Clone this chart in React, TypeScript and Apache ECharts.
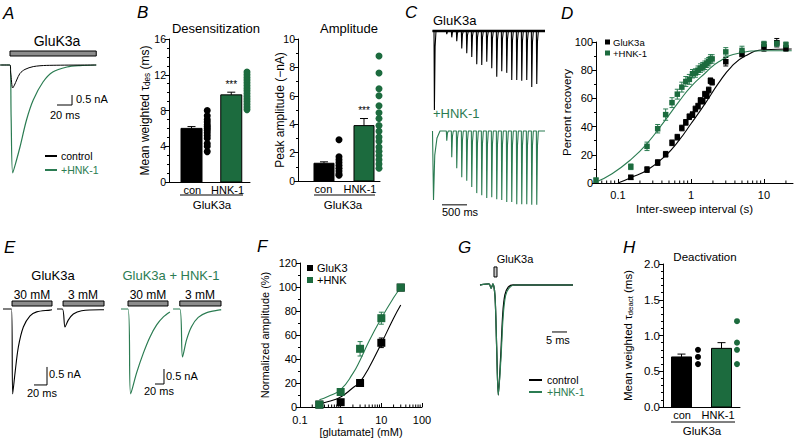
import React, { useEffect, useRef } from "react";
import * as echarts from "echarts";

const FONT = "'Liberation Sans', Arial, Helvetica, sans-serif";
const BLACK = "#000000";
const GREEN = "#1c6b3e";
const GREEN_LINE = "#2b7c52";
const GREY = "#8c8c8c";

// ---------------- Panel A: example traces (time ms, current nA)
const aCtrlTime = [-13, 0, 1, 3.6, 6, 8.9, 13.3, 20, 31, 49, 115];
const aCtrlCurrent = [0, 0, -0.4, -1.15, -1.0, -0.75, -0.42, -0.22, -0.08, -0.02, 0];
const aHnkTime = [-13, 0, 1.5, 3.6, 8, 13.3, 22, 31, 44, 57, 76, 93, 115];
const aHnkCurrent = [0, 0, -2.6, -5.4, -4.85, -4.1, -2.75, -1.75, -0.85, -0.35, -0.1, -0.03, 0];
const aStim = [[0, 115]];

// ---------------- Panel B: desensitization and amplitude
const bDesMean = [6.0, 9.75];
const bDesSem = [0.2, 0.3];
const bDesSig = ["", "***"];
const bDesConDots = [8.0, 7.4, 7.0, 6.7, 6.4, 6.2, 6.0, 5.8, 5.5, 5.2, 4.9, 4.3, 4.0, 3.4];
const bDesHnkDots = [12.3, 12.0, 11.7, 11.4, 11.1, 10.8, 10.5, 10.2, 9.9, 9.6, 9.3, 9.0, 8.7, 8.4, 8.1];
const bAmpMean = [1.25, 3.9];
const bAmpSem = [0.1, 0.5];
const bAmpSig = ["", "***"];
const bAmpConDots = [2.9, 1.7, 1.5, 1.3, 1.1, 0.9, 0.7, 0.5, 0.4];
const bAmpHnkDots = [8.8, 7.6, 6.5, 6.0, 5.3, 4.8, 4.4, 3.9, 3.5, 3.1, 2.8, 2.4, 2.1, 1.8, 1.5, 1.2, 0.9];
const bCategories = ["con", "HNK-1"];

// ---------------- Panel C: recovery protocol traces (time ms, relative current)
const cCtrlPeakTimes = [80, 327, 427, 527, 627, 727, 827, 927, 1027, 1127, 1227, 1327, 1427, 1527, 1627, 1727, 1827, 1927, 2027, 2127];
const cCtrlPeakDepths = [1, 0.04, 0.08, 0.13, 0.22, 0.28, 0.33, 0.42, 0.43, 0.39, 0.47, 0.58, 0.51, 0.53, 0.62, 0.62, 0.63, 0.62, 0.71, 0.67];
const cHnkPeakTimes = [60, 327, 427, 527, 627, 727, 827, 927, 1027, 1127, 1227, 1327, 1427, 1527, 1627, 1727, 1827, 1927, 2027, 2127];
const cHnkPeakDepths = [1, 0.14, 0.38, 0.54, 0.67, 0.72, 0.81, 0.9, 0.93, 0.97, 0.96, 0.99, 1.0, 1.03, 1.03, 1.06, 1.06, 1.06, 1.07, 1.07];

// ---------------- Panel D: recovery from desensitization
const dCtrlInterval = [0.15, 0.25, 0.35, 0.45, 0.55, 0.65, 0.75, 0.85, 0.95, 1.05, 1.15, 1.25, 1.35, 1.45, 1.55, 1.65, 1.75, 1.85, 1.95, 3, 5, 10, 15, 20];
const dCtrlRecovery = [4, 9.5, 14.5, 20.4, 28.5, 32.5, 39, 43, 47, 48.5, 52.5, 54.5, 58.5, 58, 63, 62, 66, 72.5, 71.5, 86, 91.5, 96.5, 99.5, 95.5];
const dCtrlSem = [1.5, 2, 2, 2, 2, 2, 2, 2, 2, 2, 2, 2, 2, 2, 2, 2, 2, 2, 2, 3, 2, 3, 3, 2];
const dHnkInterval = [0.05, 0.15, 0.25, 0.35, 0.45, 0.55, 0.65, 0.75, 0.85, 0.95, 1.05, 1.15, 1.25, 1.35, 1.45, 1.55, 1.65, 1.75, 1.85, 1.95, 3, 5, 10, 15, 20];
const dHnkRecovery = [2, 11.5, 26, 38.5, 48.5, 57, 63, 68, 72, 73.5, 77.5, 78, 80, 81.5, 82.5, 83.5, 85, 86, 88, 88, 93, 94, 98.5, 99, 98];
const dHnkSem = [1.5, 2, 3, 3, 4, 3.5, 3.5, 3.5, 3.5, 3.5, 3, 3, 3, 3, 3, 3, 3, 3, 3, 3, 3, 3, 2, 2, 2];
const dCtrlFitX = [0.1, 0.15, 0.25, 0.45, 0.68, 1, 1.57, 2.4, 3.6, 5.5, 10, 24];
const dCtrlFitY = [0, 3.8, 9, 19.5, 30, 42, 56.5, 71, 82.6, 90, 94.5, 95];
const dHnkFitX = [0.05, 0.083, 0.15, 0.25, 0.45, 0.68, 1, 1.57, 2.4, 4.5, 10, 24];
const dHnkFitY = [0.7, 6.6, 16.6, 28, 45, 57.5, 68.4, 78, 86, 92, 93.8, 93.8];
const dMinorTicks = [0.06, 0.07, 0.08, 0.09, 0.2, 0.3, 0.4, 0.5, 0.6, 0.7, 0.8, 0.9, 2, 3, 4, 5, 6, 7, 8, 9, 20];

// ---------------- Panel E: glutamate 30 mM / 3 mM traces (ms, nA)
const eCtrl30Time = [4.6, 17.7, 19.5, 23.1, 28.2, 35.9, 46.2, 56.4, 76.9, 80];
const eCtrl30Current = [0, 0, -2.36, -1.78, -1.06, -0.5, -0.19, -0.08, -0.03, -0.02];
const eCtrl3Time = [87.7, 96, 100, 105, 112.8, 125.6, 154, 160];
const eCtrl3Current = [0, 0, -0.5, -0.31, -0.14, -0.05, -0.02, -0.02];
const eHnk30Time = [13.3, 28.9, 34.8, 48, 63, 77.8, 92.6, 107, 122];
const eHnk30Current = [0, 0, -2.83, -2.13, -1.47, -0.93, -0.53, -0.27, -0.1];
const eHnk3Time = [129, 144, 150, 159, 170, 185, 204, 233, 236];
const eHnk3Current = [0, 0, -1.6, -1.03, -0.59, -0.28, -0.12, -0.03, -0.02];
const eCtrlStim = [[18.5, 80], [97, 160]];
const eHnkStim = [[28.9, 117.8], [144, 235.6]];
const eStimLabels = ["30 mM", "3 mM"];

// ---------------- Panel F: glutamate dose response
const fConc = [0.3, 1, 3, 10, 30];
const fCtrlAmp = [2, 4, 20, 53.5, 99.5];
const fCtrlSem = [1.5, 1, 1.5, 4, 1.5];
const fHnkAmp = [2, 12.5, 48.5, 74, 99.5];
const fHnkSem = [1.5, 2, 6, 5, 1.5];
const fFitX = [0.3, 0.5, 1, 2, 3, 5, 10, 20, 30];
const fCtrlFitY = [2.5, 4.5, 8.4, 16, 21, 33, 53, 74, 85];
const fHnkFitY = [6, 9, 14.5, 28, 39, 55, 74, 91, 99.6];
const fMinorTicks = [0.2, 0.3, 0.4, 0.5, 0.6, 0.7, 0.8, 0.9, 2, 3, 4, 5, 6, 7, 8, 9, 20, 30, 40, 50, 60, 70, 80, 90];

// ---------------- Panel G: deactivation traces (ms, normalized)
const gCtrlTime = [0, 3, 3.7, 4.3, 5, 5.55, 6.1, 6.9, 7.6, 8.3, 9.4, 11, 31];
const gCtrlCurrent = [0, 0.01, -0.03, 0.01, -0.1, -0.56, -1, -0.65, -0.26, -0.09, -0.02, 0, 0];
const gHnkTime = [0, 3, 3.7, 4.3, 5, 5.55, 6.1, 6.95, 7.7, 8.5, 9.6, 11.5, 31];
const gHnkCurrent = [0, 0.01, -0.03, 0.01, -0.1, -0.56, -1.0, -0.68, -0.29, -0.1, -0.03, 0, 0];
const gStim = [[4.67, 5.67]];

// ---------------- Panel H: deactivation
const hMean = [0.7, 0.82];
const hSem = [0.04, 0.08];
const hConDots = [0.6, 0.7, 0.8];
const hHnkDots = [0.6, 0.8, 0.9, 1.2];

// =====================================================================
const zip = (xs: number[], ys: number[]) => xs.map((x, i) => [x, ys[i]]);

function spikeTrace(times: number[], depths: number[], tStart: number, tEnd: number, slowFirst: boolean) {
  const pts: number[][] = [[tStart, 0]];
  times.forEach((t, i) => {
    const d = depths[i];
    if (i === 0 && slowFirst) {
      pts.push([t, 0], [t + 10, -d], [t + 35, -d * 0.35], [t + 80, -d * 0.1], [t + 140, 0]);
    } else {
      pts.push([t, 0], [t + 8, -d], [t + 22, -d * 0.2], [t + 40, 0]);
    }
  });
  pts.push([tEnd, 0]);
  return pts;
}

const hidden = (gridIndex: number, min: number, max: number) => ({
  type: "value", gridIndex, min, max, show: false, splitLine: { show: false },
});
const axLine = { show: true, onZero: false, lineStyle: { color: BLACK, width: 1 } };
const tick = (len: number, inside = false) => ({ show: true, length: len, inside, lineStyle: { color: BLACK, width: 1 } });
const minor = (n: number, len = 2) => ({ show: true, splitNumber: n, length: len, lineStyle: { color: BLACK, width: 1 } });
const lab = (size: number, margin = 3) => ({ color: BLACK, fontSize: size, fontFamily: FONT, margin });
const nameStyle = (size: number) => ({ color: BLACK, fontSize: size, fontFamily: FONT });
const subName = (pre: string, sub: string, post: string, size: number) => ({
  name: `{a|${pre}}{b|${sub}}{a|${post}}`,
  nameTextStyle: {
    rich: {
      a: { fontSize: size, fontFamily: FONT, color: BLACK, lineHeight: size + 4, verticalAlign: "bottom" },
      b: { fontSize: size * 0.68, fontFamily: FONT, color: BLACK, lineHeight: size + 1, verticalAlign: "bottom" },
    },
  },
});

function traceLine(idx: number, data: number[][], color: string, width = 1.2, smooth: any = 0.3) {
  return {
    type: "line", xAxisIndex: idx, yAxisIndex: idx, data, symbol: "none", silent: true,
    smooth, lineStyle: { color, width }, itemStyle: { color }, z: 3,
  };
}
function scaleBar(idx: number, data: number[][], width = 1) {
  return { type: "line", xAxisIndex: idx, yAxisIndex: idx, data, symbol: "none", silent: true, lineStyle: { color: BLACK, width } };
}
function stimSeries(idx: number, intervals: number[][], yLow: number, yHigh: number, fill = GREY) {
  return {
    type: "custom", xAxisIndex: idx, yAxisIndex: idx, silent: true, data: intervals, encode: { x: [0, 1] },
    renderItem: (_p: any, api: any) => {
      const a = api.coord([api.value(0), yHigh]);
      const b = api.coord([api.value(1), yLow]);
      return { type: "rect", shape: { x: a[0], y: a[1], width: b[0] - a[0], height: b[1] - a[1] }, style: { fill, stroke: BLACK, lineWidth: 1 } };
    },
  };
}
function barSeries(idx: number, xs: number[], means: number[], sems: number[], sigs: string[], colors: string[], barW: number) {
  return {
    type: "custom", xAxisIndex: idx, yAxisIndex: idx, silent: true,
    data: xs.map((x, i) => [x, means[i], sems[i], i]), encode: { x: 0, y: 1 },
    renderItem: (_p: any, api: any) => {
      const x = api.value(0), m = api.value(1), e = api.value(2), i = api.value(3);
      const base = api.coord([x, 0]);
      const top = api.coord([x, m]);
      const et = api.coord([x, m + e]);
      const ch: any[] = [
        { type: "rect", shape: { x: base[0] - barW / 2, y: top[1], width: barW, height: base[1] - top[1] }, style: { fill: colors[i], stroke: BLACK, lineWidth: 1 } },
        { type: "line", shape: { x1: top[0], y1: top[1], x2: et[0], y2: et[1] }, style: { stroke: BLACK, lineWidth: 1 } },
        { type: "line", shape: { x1: et[0] - 4, y1: et[1], x2: et[0] + 4, y2: et[1] }, style: { stroke: BLACK, lineWidth: 1 } },
      ];
      if (sigs[i]) {
        ch.push({ type: "text", x: et[0], y: et[1] - 3, style: { text: sigs[i], fill: BLACK, fontSize: 10, fontFamily: FONT, align: "center", verticalAlign: "bottom" } });
      }
      return { type: "group", children: ch };
    },
  };
}
function dots(idx: number, x: number, vals: number[], color: string, size: number) {
  return { type: "scatter", xAxisIndex: idx, yAxisIndex: idx, silent: true, data: vals.map((v) => [x, v]), symbol: "circle", symbolSize: size, itemStyle: { color, opacity: 1 }, z: 4 };
}
function errSeries(idx: number, xs: number[], ys: number[], es: number[], color: string, cap: number) {
  return {
    type: "custom", xAxisIndex: idx, yAxisIndex: idx, silent: true, data: xs.map((x, i) => [x, ys[i], es[i]]), encode: { x: 0, y: 1 },
    renderItem: (_p: any, api: any) => {
      const x = api.value(0), y = api.value(1), e = api.value(2);
      const lo = api.coord([x, y - e]), hi = api.coord([x, y + e]);
      const st = { stroke: color, lineWidth: 1 };
      return {
        type: "group", children: [
          { type: "line", shape: { x1: lo[0], y1: lo[1], x2: hi[0], y2: hi[1] }, style: st },
          { type: "line", shape: { x1: lo[0] - cap, y1: lo[1], x2: lo[0] + cap, y2: lo[1] }, style: st },
          { type: "line", shape: { x1: hi[0] - cap, y1: hi[1], x2: hi[0] + cap, y2: hi[1] }, style: st },
        ],
      };
    },
  };
}
function squares(idx: number, xs: number[], ys: number[], color: string, size: number) {
  return { type: "scatter", xAxisIndex: idx, yAxisIndex: idx, silent: true, data: zip(xs, ys), symbol: "rect", symbolSize: size, itemStyle: { color, opacity: 1 }, z: 5 };
}
function logMinorTicks(idx: number, vals: number[], len: number) {
  return {
    type: "custom", xAxisIndex: idx, yAxisIndex: idx, silent: true, data: vals.map((v) => [v, 0]), encode: { x: 0, y: 1 }, clip: false,
    renderItem: (_p: any, api: any) => {
      const p = api.coord([api.value(0), 0]);
      return { type: "line", shape: { x1: p[0], y1: p[1], x2: p[0], y2: p[1] - len }, style: { stroke: BLACK, lineWidth: 1 } };
    },
  };
}

// graphic helpers
const T = (x: number, y: number, text: string, o: any = {}) => ({
  type: "text", x, y, silent: true,
  style: {
    text, fill: o.color || BLACK, fontSize: o.size || 11, fontFamily: FONT, fontStyle: o.italic ? "italic" : "normal",
    align: o.align || "left", verticalAlign: "middle",
  },
});
const L = (x1: number, y1: number, x2: number, y2: number, color = BLACK, w = 1) => ({
  type: "line", silent: true, shape: { x1, y1, x2, y2 }, style: { stroke: color, lineWidth: w },
});
const R = (x: number, y: number, w: number, h: number, color: string) => ({
  type: "rect", silent: true, shape: { x, y, width: w, height: h }, style: { fill: color },
});

function buildOption() {
  const grids = [
    { left: 0, top: 45, width: 100, height: 135 }, // 0 A
    { left: 169, top: 39, width: 81, height: 143 }, // 1 B desens
    { left: 298, top: 39, width: 82, height: 142 }, // 2 B amplitude
    { left: 430, top: 25, width: 115, height: 90 }, // 3 C control
    { left: 430, top: 125, width: 115, height: 90 }, // 4 C HNK
    { left: 596, top: 42, width: 197, height: 141 }, // 5 D
    { left: 0, top: 290, width: 110, height: 110 }, // 6 E control
    { left: 115, top: 290, width: 115, height: 110 }, // 7 E HNK
    { left: 300, top: 263, width: 122, height: 144 }, // 8 F
    { left: 480, top: 265, width: 93, height: 140 }, // 9 G
    { left: 663, top: 264, width: 77, height: 143 }, // 10 H
  ].map((g) => ({ ...g, outerBoundsMode: "none", containLabel: false }));

  const barX = (gi: number, max: number, labelVals: number[]) => ({
    type: "value", gridIndex: gi, min: 0, max, axisLine: axLine, axisTick: { show: false }, splitLine: { show: false },
    axisLabel: { ...lab(11, 2), customValues: labelVals, formatter: (v: number) => (v < 3 ? bCategories[0] : bCategories[1]) },
  });

  const xAxis: any[] = [
    hidden(0, -13.33, 120),
    barX(1, 5.4, [1.55, 3.9]),
    barX(2, 5.467, [1.7, 4.13]),
    hidden(3, 0, 2300),
    hidden(4, 0, 2300),
    {
      type: "log", logBase: 10, gridIndex: 5, min: 0.05, max: 25, axisLine: axLine, axisTick: tick(4, true), splitLine: { show: false },
      axisLabel: { ...lab(11, 6), showMinLabel: false, showMaxLabel: false },
      name: "Inter-sweep interval (s)", nameLocation: "middle", nameGap: 20, nameTextStyle: nameStyle(11.5), nameMoveOverlap: false,
    },
    hidden(6, 0, 169.2),
    hidden(7, 0, 255.6),
    {
      type: "log", logBase: 10, gridIndex: 8, min: 0.1, max: 100, axisLine: axLine, axisTick: tick(4, true), splitLine: { show: false },
      axisLabel: lab(11, 7),
      name: "[glutamate] (mM)", nameLocation: "middle", nameGap: 19, nameTextStyle: nameStyle(11), nameMoveOverlap: false,
    },
    hidden(9, 0, 31),
    barX(10, 5.133, [1.267, 3.667]),
  ];

  const yAxis: any[] = [
    hidden(0, -5.75, 1.0),
    {
      type: "value", gridIndex: 1, min: 0, max: 16, interval: 4, axisLine: axLine, axisTick: tick(4), minorTick: minor(4),
      splitLine: { show: false }, minorSplitLine: { show: false }, axisLabel: lab(10.5),
      ...subName("Mean weighted τ", "des", " (ms)", 12), nameLocation: "middle", nameGap: 18, nameMoveOverlap: false,
    },
    {
      type: "value", gridIndex: 2, min: 0, max: 10, interval: 2, axisLine: axLine, axisTick: tick(4), minorTick: minor(2),
      splitLine: { show: false }, minorSplitLine: { show: false }, axisLabel: lab(10.5),
      name: "Peak amplitude (−nA)", nameTextStyle: nameStyle(12), nameLocation: "middle", nameGap: 12, nameMoveOverlap: false,
    },
    hidden(3, -1.0633, 0.0759),
    hidden(4, -1.217, 0.087),
    {
      type: "value", gridIndex: 5, min: 0, max: 100, interval: 20, axisLine: axLine, axisTick: tick(4), minorTick: minor(2),
      splitLine: { show: false }, minorSplitLine: { show: false }, axisLabel: lab(11),
      name: "Percent recovery", nameTextStyle: nameStyle(11.5), nameLocation: "middle", nameGap: 23, nameMoveOverlap: false,
    },
    hidden(6, -2.528, 0.528),
    hidden(7, -3.033, 0.633),
    {
      type: "value", gridIndex: 8, min: 0, max: 120, interval: 20, axisLine: axLine, axisTick: tick(4), minorTick: minor(2),
      splitLine: { show: false }, minorSplitLine: { show: false }, axisLabel: lab(11),
      name: "Normalized amplitude (%)", nameTextStyle: nameStyle(11), nameLocation: "middle", nameGap: 30, nameMoveOverlap: false,
    },
    hidden(9, -1.0909, 0.1818),
    {
      type: "value", gridIndex: 10, min: 0, max: 2, interval: 0.5, axisLine: axLine, axisTick: tick(4), minorTick: minor(5),
      splitLine: { show: false }, minorSplitLine: { show: false }, axisLabel: { ...lab(11.5), formatter: (v: number) => v.toFixed(1) },
      ...subName("Mean weighted τ", "deact", " (ms)", 11.5), nameLocation: "middle", nameGap: 29, nameMoveOverlap: false,
    },
  ];

  const series: any[] = [
    // A
    stimSeries(0, aStim, 0.45, 0.7),
    traceLine(0, zip(aHnkTime, aHnkCurrent), GREEN_LINE, 1.2),
    traceLine(0, zip(aCtrlTime, aCtrlCurrent), BLACK, 1.0),
    scaleBar(0, [[62.7, -2], [82.7, -2], [82.7, -1.5]]),
    // B desensitization
    barSeries(1, [1.5, 4.15], bDesMean, bDesSem, bDesSig, [BLACK, GREEN], 21),
    dots(1, 2.55, bDesConDots, BLACK, 7),
    dots(1, 5.2, bDesHnkDots, GREEN, 7),
    // B amplitude
    barSeries(2, [1.733, 4.4], bAmpMean, bAmpSem, bAmpSig, [BLACK, GREEN], 20),
    dots(2, 2.733, bAmpConDots, BLACK, 7),
    dots(2, 5.4, bAmpHnkDots, GREEN, 7),
    // C
    scaleBar(3, [[50, 0], [2300, 0]], 2.6),
    traceLine(3, spikeTrace(cCtrlPeakTimes, cCtrlPeakDepths, 50, 2300, false), BLACK, 1.1, false),
    traceLine(4, spikeTrace(cHnkPeakTimes, cHnkPeakDepths, 50, 2300, true), GREEN_LINE, 1.1, false),
    scaleBar(4, [[240, -1.07], [740, -1.07]]),
    // D
    traceLine(5, zip(dCtrlFitX, dCtrlFitY), BLACK, 1.1, 0.5),
    traceLine(5, zip(dHnkFitX, dHnkFitY), GREEN_LINE, 1.1, 0.5),
    logMinorTicks(5, dMinorTicks, 2.5),
    errSeries(5, dCtrlInterval, dCtrlRecovery, dCtrlSem, BLACK, 2.5),
    squares(5, dCtrlInterval, dCtrlRecovery, BLACK, 5.5),
    errSeries(5, dHnkInterval, dHnkRecovery, dHnkSem, GREEN_LINE, 2.5),
    squares(5, dHnkInterval, dHnkRecovery, GREEN, 5.5),
    // E
    stimSeries(6, eCtrlStim, 0.083, 0.222),
    traceLine(6, zip(eCtrl30Time, eCtrl30Current), BLACK, 1.1),
    traceLine(6, zip(eCtrl3Time, eCtrl3Current), BLACK, 1.1),
    scaleBar(6, [[52.3, -2.11], [72.3, -2.11], [72.3, -1.61]]),
    stimSeries(7, eHnkStim, 0.1, 0.267),
    traceLine(7, zip(eHnk30Time, eHnk30Current), GREEN_LINE, 1.2),
    traceLine(7, zip(eHnk3Time, eHnk3Current), GREEN_LINE, 1.2),
    scaleBar(7, [[88.9, -2.5], [108.9, -2.5], [108.9, -2.0]]),
    // F
    traceLine(8, zip(fFitX, fCtrlFitY), BLACK, 1.1, 0.5),
    traceLine(8, zip(fFitX, fHnkFitY), GREEN_LINE, 1.1, 0.5),
    logMinorTicks(8, fMinorTicks, 2.5),
    errSeries(8, fConc, fCtrlAmp, fCtrlSem, BLACK, 2.5),
    squares(8, fConc, fCtrlAmp, BLACK, 8),
    errSeries(8, fConc, fHnkAmp, fHnkSem, GREEN_LINE, 2.5),
    squares(8, fConc, fHnkAmp, GREEN, 8),
    // G
    stimSeries(9, gStim, 0.073, 0.164, "#c8c8c8"),
    traceLine(9, zip(gCtrlTime, gCtrlCurrent), BLACK, 1.3),
    traceLine(9, zip(gHnkTime, gHnkCurrent), GREEN_LINE, 1.2),
    scaleBar(9, [[24, -0.427], [29, -0.427]]),
    // H
    barSeries(10, [1.233, 3.9], hMean, hSem, ["", ""], [BLACK, GREEN], 20),
    dots(10, 2.333, hConDots, BLACK, 6),
    dots(10, 4.933, hHnkDots, GREEN, 6),
  ];

  const graphic: any[] = [
    // panel letters
    T(3, 13, "A", { size: 17, italic: true }),
    T(137, 12, "B", { size: 17, italic: true }),
    T(405, 12, "C", { size: 17, italic: true }),
    T(561, 13, "D", { size: 17, italic: true }),
    T(4, 247, "E", { size: 17, italic: true }),
    T(257, 246, "F", { size: 17, italic: true }),
    T(458, 247, "G", { size: 17, italic: true }),
    T(623, 247, "H", { size: 17, italic: true }),
    // A
    T(57, 41, "GluK3a", { size: 14, align: "center" }),
    T(76, 99, "0.5 nA", { size: 11 }),
    T(50, 115, "20 ms", { size: 11 }),
    L(45, 156, 57, 156, BLACK, 2),
    T(61, 156, "control", { size: 10.5 }),
    L(45, 170, 57, 170, GREEN_LINE, 2),
    T(61, 170, "+HNK-1", { size: 10.5, color: GREEN_LINE }),
    // B
    T(216, 28, "Desensitization", { size: 13, align: "center" }),
    T(349, 28, "Amplitude", { size: 13, align: "center" }),
    L(180, 195, 243, 195),
    T(212, 205, "GluK3a", { size: 11.5, align: "center" }),
    L(314, 195, 375, 195),
    T(343, 205, "GluK3a", { size: 11.5, align: "center" }),
    // C
    T(433, 20, "GluK3a", { size: 13 }),
    T(433, 113, "+HNK-1", { size: 13, color: GREEN_LINE }),
    T(442, 212, "500 ms", { size: 11 }),
    // D legend
    R(605, 39.5, 5, 5, BLACK),
    T(613, 42, "GluK3a", { size: 9.5 }),
    R(605, 50.5, 5, 5, GREEN),
    T(613, 53, "+HNK-1", { size: 9.5 }),
    // E
    T(53, 275, "GluK3a", { size: 13, align: "center" }),
    T(171, 275, "GluK3a + HNK-1", { size: 13, align: "center", color: GREEN_LINE }),
    T(32, 295, eStimLabels[0], { size: 12, align: "center" }),
    T(83, 295, eStimLabels[1], { size: 12, align: "center" }),
    T(148, 295, eStimLabels[0], { size: 12, align: "center" }),
    T(200, 295, eStimLabels[1], { size: 12, align: "center" }),
    T(49, 374, "0.5 nA", { size: 11 }),
    T(27, 393, "20 ms", { size: 11 }),
    T(166, 376, "0.5 nA", { size: 11 }),
    T(144, 391, "20 ms", { size: 11 }),
    // F legend
    R(307, 265, 6, 6, BLACK),
    T(317, 268, "GluK3", { size: 11 }),
    R(307, 277, 6, 6, GREEN),
    T(317, 280, "+HNK", { size: 11 }),
    // G
    T(515, 259, "GluK3a", { size: 11, align: "center" }),
    T(546, 340, "5 ms", { size: 11 }),
    L(529, 380, 542, 380, BLACK, 2),
    T(547, 380, "control", { size: 10.5 }),
    L(529, 392, 542, 392, GREEN_LINE, 2),
    T(547, 392, "+HNK-1", { size: 10.5, color: GREEN_LINE }),
    // H
    T(705, 257, "Deactivation", { size: 11.5, align: "center" }),
    L(671, 422, 735, 422),
    T(702, 431, "GluK3a", { size: 11.5, align: "center" }),
  ];

  return {
    animation: false,
    backgroundColor: "#ffffff",
    textStyle: { fontFamily: FONT },
    grid: grids,
    xAxis,
    yAxis,
    series,
    graphic,
  };
}

export default function App() {
  const ref = useRef<HTMLDivElement>(null);
  useEffect(() => {
    if (!ref.current) return;
    const chart = echarts.init(ref.current, null, { renderer: "svg", width: 795, height: 443 });
    chart.setOption(buildOption() as any);
    return () => chart.dispose();
  }, []);
  return <div ref={ref} style={{ position: "fixed", left: 0, top: 0, width: 795, height: 443, background: "#fff" }} />;
}
